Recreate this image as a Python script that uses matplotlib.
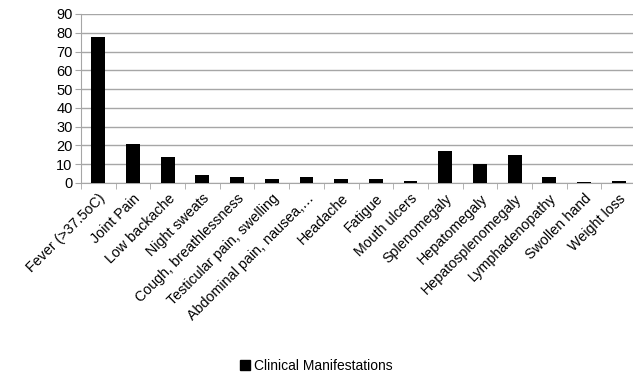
import matplotlib
matplotlib.use("Agg")
import matplotlib.pyplot as plt
import numpy as np
from matplotlib.patches import Patch

plt.rcParams['font.family'] = ['Liberation Sans', 'DejaVu Sans']

symptoms = ['Fever (>37.5oC)', 'Joint Pain', 'Low backache', 'Night sweats',
            'Cough, breathlessness', 'Testicular pain, swelling',
            'Abdominal pain, nausea,…', 'Headache', 'Fatigue', 'Mouth ulcers',
            'Splenomegaly', 'Hepatomegaly', 'Hepatosplenomegaly',
            'Lymphadenopathy', 'Swollen hand', 'Weight loss']
percent = [78, 21, 14, 4, 3.3, 2, 3.3, 2, 2, 1.3, 17.3, 10.3, 14.7, 3.3, 0.7, 1.3]
series_name = 'Clinical Manifestations'

fig = plt.figure(figsize=(6.33, 3.76), dpi=100)
ax = fig.add_axes([81 / 633, 1 - 183 / 376, 555 / 633, 169 / 376])

x = np.arange(len(symptoms))
ax.bar(x, percent, width=0.4, color='black', zorder=3)

ax.set_xlim(-0.5, len(symptoms) - 0.5)
ax.set_ylim(0, 90)
ax.set_yticks(range(0, 91, 10))
ax.yaxis.grid(True, color='#a6a6a6', linewidth=1, zorder=0)

ax.set_xticks(x)
ax.set_xticklabels(symptoms, rotation=45, ha='right', rotation_mode='anchor', fontsize=10.3)
ax.set_xticks(np.arange(-0.5, len(symptoms), 1), minor=True)
ax.tick_params(axis='x', which='major', length=0, pad=6)
ax.tick_params(axis='x', which='minor', length=4, color='#a6a6a6', direction='out')
ax.tick_params(axis='y', length=4, color='#a6a6a6', labelsize=10.5, pad=2)

for s in ['top', 'right']:
    ax.spines[s].set_visible(False)
for s in ['left', 'bottom']:
    ax.spines[s].set_color('#a6a6a6')

fig.legend(handles=[Patch(color='black', label=series_name)],
           loc='center', bbox_to_anchor=(0.5, 1 - 366 / 376), frameon=False,
           fontsize=10, handlelength=0.7, handleheight=0.7, handletextpad=0.3)

fig.savefig('out.png', dpi=100)
